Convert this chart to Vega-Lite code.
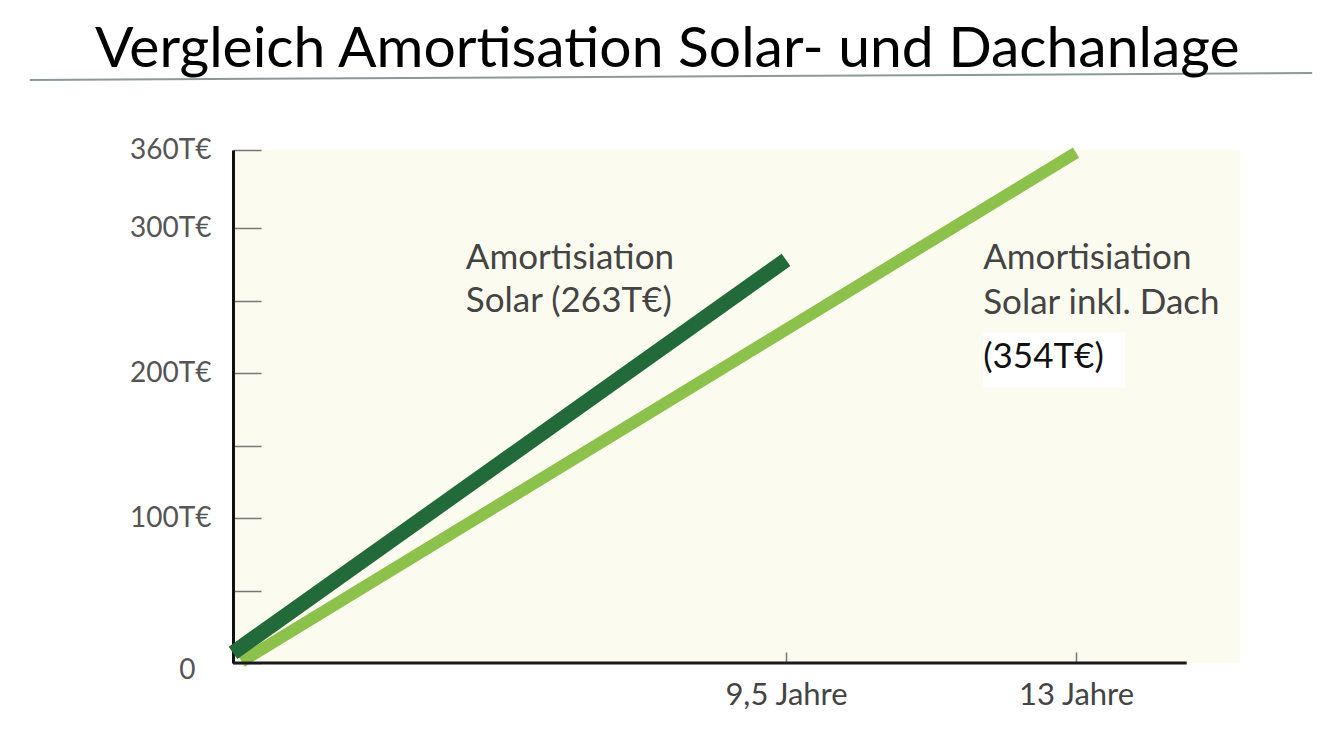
{
  "$schema": "https://vega.github.io/schema/vega-lite/v6.json",
  "description": "Vergleich Amortisation Solar- und Dachanlage",
  "autosize": {"type": "none"},
  "padding": {"left": 233, "top": 150, "right": 104, "bottom": 93},
  "width": 1007,
  "height": 513,
  "background": "white",
  "config": {
    "view": {"stroke": null, "fill": "#fbfcef"},
    "font": "Lato"
  },
  "title": {
    "text": "Vergleich Amortisation Solar- und Dachanlage",
    "anchor": "start",
    "frame": "group",
    "orient": "top",
    "dx": -138,
    "dy": 52,
    "offset": 0,
    "baseline": "alphabetic",
    "font": "Lato",
    "fontSize": 57,
    "fontWeight": "normal",
    "color": "#000000"
  },
  "datasets": {
    "linien": [
      {"serie": "Solar inkl. Dach", "jahr": 0.15, "wert": 1},
      {"serie": "Solar inkl. Dach", "jahr": 13, "wert": 358},
      {"serie": "Solar", "jahr": 0, "wert": 7},
      {"serie": "Solar", "jahr": 9.5, "wert": 278}
    ],
    "texte": [
      {"text": "Amortisiation", "jahr": 4.0, "wert": 279},
      {"text": "Solar (263T€)", "jahr": 4.0, "wert": 250},
      {"text": "Amortisiation", "jahr": 11.88, "wert": 279},
      {"text": "Solar inkl. Dach", "jahr": 11.88, "wert": 248}
    ],
    "kasten": [
      {"text": "(354T€)", "jahr": 11.88, "jahr2": 13.6, "wert": 211, "wert_lo": 190, "wert_hi": 228}
    ],
    "achse": [
      {"von": 0, "bis": 14.35}
    ],
    "trennlinie": [
      {"von": -3.49, "bis": 15.88, "y1": 413.8, "y2": 419.2}
    ]
  },
  "layer": [
    {
      "data": {"name": "trennlinie"},
      "mark": {"type": "rule", "color": "#8a9a9a", "strokeWidth": 2},
      "encoding": {
        "x": {"field": "von", "type": "quantitative"},
        "x2": {"field": "bis"},
        "y": {"field": "y1", "type": "quantitative"},
        "y2": {"field": "y2"}
      }
    },
    {
      "data": {"name": "linien"},
      "transform": [{"filter": "datum.serie == 'Solar inkl. Dach'"}],
      "mark": {"type": "line", "color": "#8cc24b", "strokeWidth": 12, "strokeCap": "butt"},
      "encoding": {
        "x": {
          "field": "jahr",
          "type": "quantitative",
          "scale": {"domain": [0, 9.5, 13, 15], "range": [0, 553, 843, 1007], "nice": false, "zero": false},
          "axis": {
            "title": null,
            "domain": false,
            "grid": false,
            "values": [9.5, 13],
            "labelExpr": "datum.value == 9.5 ? '9,5 Jahre' : '13 Jahre'",
            "tickSize": -11,
            "tickColor": "#777777",
            "tickWidth": 1.5,
            "labelPadding": 28,
            "labelFont": "Lato",
            "labelFontSize": 31,
            "labelColor": "#444444"
          }
        },
        "y": {
          "field": "wert",
          "type": "quantitative",
          "scale": {"domain": [0, 300, 360], "range": [513, 78, 0], "nice": false, "zero": false},
          "axis": {
            "title": null,
            "grid": false,
            "domainColor": "#111111",
            "domainWidth": 3,
            "values": [0, 50, 100, 150, 200, 250, 300, 360],
            "labelExpr": "datum.value == 0 ? '0' : (datum.value == 100 || datum.value == 200 || datum.value == 300 || datum.value == 360) ? datum.value + 'T€' : ''",
            "tickSize": -28,
            "tickColor": "#777777",
            "tickWidth": 1.5,
            "labelPadding": {"condition": {"test": "datum.value == 0", "value": 66}, "value": 50},
            "labelOffset": {"condition": {"test": "datum.value == 0", "value": 7}, "value": 0},
            "labelFont": "Lato",
            "labelFontSize": 28,
            "labelColor": "#555555"
          }
        }
      }
    },
    {
      "data": {"name": "linien"},
      "transform": [{"filter": "datum.serie == 'Solar'"}],
      "mark": {"type": "line", "color": "#236a3b", "strokeWidth": 15, "strokeCap": "butt"},
      "encoding": {
        "x": {"field": "jahr", "type": "quantitative"},
        "y": {"field": "wert", "type": "quantitative"}
      }
    },
    {
      "data": {"name": "achse"},
      "mark": {"type": "rule", "color": "#1a1a1a", "strokeWidth": 3},
      "encoding": {
        "x": {"field": "von", "type": "quantitative"},
        "x2": {"field": "bis"},
        "y": {"datum": 0}
      }
    },
    {
      "data": {"name": "texte"},
      "mark": {"type": "text", "align": "left", "baseline": "middle", "font": "Lato", "fontSize": 35, "color": "#444444"},
      "encoding": {
        "x": {"field": "jahr", "type": "quantitative"},
        "y": {"field": "wert", "type": "quantitative"},
        "text": {"field": "text"}
      }
    },
    {
      "data": {"name": "kasten"},
      "mark": {"type": "rect", "color": "#ffffff"},
      "encoding": {
        "x": {"field": "jahr", "type": "quantitative"},
        "x2": {"field": "jahr2"},
        "y": {"field": "wert_lo", "type": "quantitative"},
        "y2": {"field": "wert_hi"}
      }
    },
    {
      "data": {"name": "kasten"},
      "mark": {"type": "text", "align": "left", "baseline": "middle", "font": "Lato", "fontSize": 35, "color": "#111111"},
      "encoding": {
        "x": {"field": "jahr", "type": "quantitative"},
        "y": {"field": "wert", "type": "quantitative"},
        "text": {"field": "text"}
      }
    }
  ]
}
